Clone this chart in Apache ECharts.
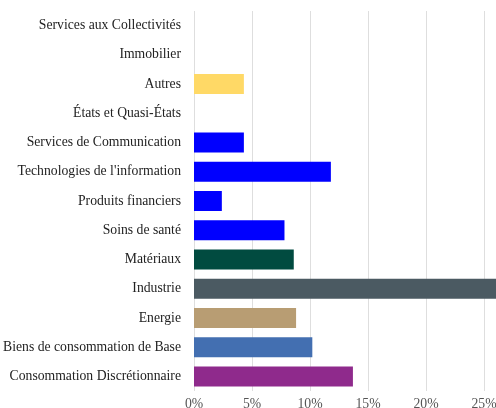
<!DOCTYPE html>
<html>
<head>
<meta charset="utf-8">
<script src="https://cdn.jsdelivr.net/npm/echarts@6/dist/echarts.min.js"></script>
<style>
  html, body { margin: 0; padding: 0; background: #fff; }
  #chart { width: 496px; height: 408px; }
</style>
</head>
<body>
<div id="chart"></div>
<script>
// sectors, top to bottom as shown
const sectors = [
  "Services aux Collectivités",
  "Immobilier",
  "Autres",
  "États et Quasi-États",
  "Services de Communication",
  "Technologies de l'information",
  "Produits financiers",
  "Soins de santé",
  "Matériaux",
  "Industrie",
  "Energie",
  "Biens de consommation de Base",
  "Consommation Discrétionnaire",
];
// weights in %
const weights = [0, 0, 4.3, 0, 4.3, 11.8, 2.4, 7.8, 8.6, 27, 8.8, 10.2, 13.7];
const barColors = [
  "#ffd966", "#ffd966", "#ffd966", "#0000ff", "#0000ff", "#0000ff", "#0000ff",
  "#0000ff", "#014b40", "#4b5a62", "#b89d73", "#436fb1", "#8f2a8c",
];

const chart = echarts.init(document.getElementById("chart"));

// category axis runs bottom-up, so reverse the lists
const cats = sectors.slice().reverse();
const data = weights
  .map((v, i) => ({ value: v, itemStyle: { color: barColors[i] } }))
  .reverse();

chart.setOption({
  animation: false,
  textStyle: { fontFamily: "Liberation Serif" },
  grid: {
    left: 194,
    width: 290,
    top: 11,
    bottom: 17,
    containLabel: false,
    outerBoundsMode: "none",
  },
  xAxis: {
    type: "value",
    min: 0,
    max: 25,
    interval: 5,
    axisLine: { show: false },
    axisTick: { show: false },
    axisLabel: {
      color: "#555",
      fontSize: 13.7,
      margin: 6,
      formatter: (v) => v + "%",
    },
    splitLine: { lineStyle: { color: "#dedede", width: 1 } },
  },
  yAxis: {
    type: "category",
    data: cats,
    axisLine: { show: false },
    axisTick: { show: false },
    axisLabel: { color: "#222", fontSize: 13.7, margin: 13 },
  },
  series: [
    {
      type: "bar",
      data: data,
      barWidth: 20,
      clip: false,
    },
  ],
});
</script>
</body>
</html>
